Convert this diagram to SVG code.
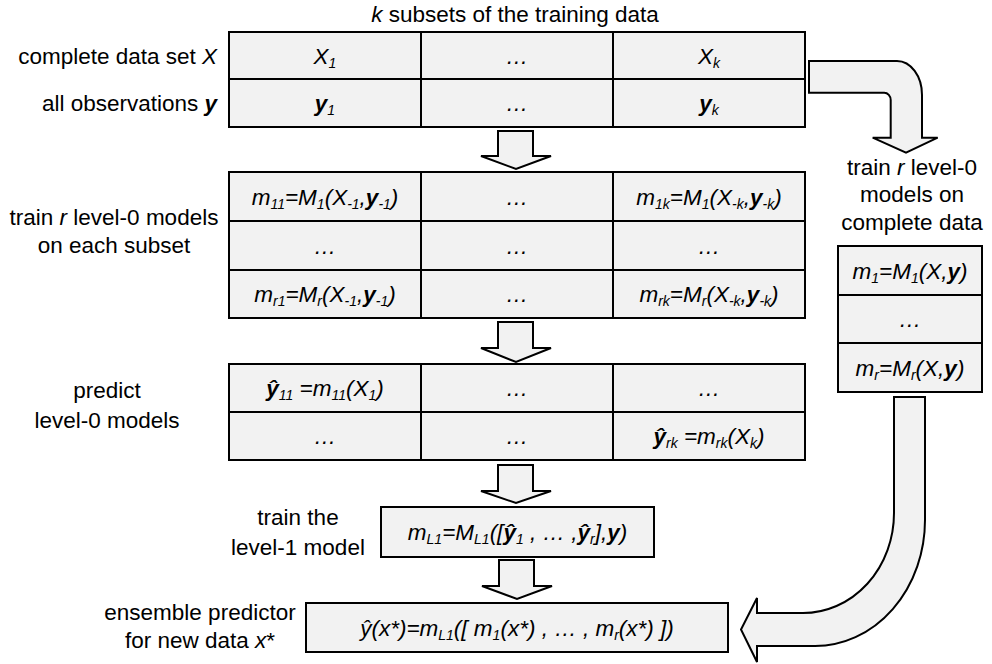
<svg xmlns="http://www.w3.org/2000/svg" width="992" height="664" viewBox="0 0 992 664">
  <style>
    text { font-family: "Liberation Sans", Arial, sans-serif; font-size: 22.5px; fill: #000; }
    .lbl { text-anchor: middle; }
    .end { text-anchor: end; }
    .c { text-anchor: middle; font-style: italic; }
    .i { font-style: italic; }
    .b { font-weight: bold; font-style: italic; }
    .s { font-size: 14px; }
    .box { fill: #f2f2f2; stroke: #000; stroke-width: 2; }
    .grid { stroke: #000; stroke-width: 2; fill: none; }
    .arrow { fill: #f2f2f2; stroke: #000; stroke-width: 2; stroke-linejoin: miter; }
  </style>

  <!-- heading above the data table -->
  <g id="title">
    <text class="lbl" x="515" y="22"><tspan class="i">k</tspan> subsets of the training data</text>
  </g>

  <!-- training data split into k subsets -->
  <g id="data-table">
    <rect class="box" x="229" y="32" width="576" height="95"/>
    <path class="grid" d="M229 79H805M421 32V127M613 32V127"/>
    <text class="c" x="325" y="64">X<tspan class="s" dy="4">1</tspan></text>
    <text class="c" x="517" y="64">…</text>
    <text class="c" x="709" y="64">X<tspan class="s" dy="4">k</tspan></text>
    <text class="c" x="325" y="111"><tspan class="b">y</tspan><tspan class="s" dy="4">1</tspan></text>
    <text class="c" x="517" y="111">…</text>
    <text class="c" x="709" y="111"><tspan class="b">y</tspan><tspan class="s" dy="4">k</tspan></text>
  </g>
  <g id="data-labels">
    <text class="end" x="217" y="64">complete data set <tspan class="i">X</tspan></text>
    <text class="end" x="217" y="111">all observations <tspan class="b">y</tspan></text>
  </g>

  <!-- level-0 models trained per subset -->
  <g id="cv-models">
    <rect class="box" x="229" y="172" width="576" height="146"/>
    <path class="grid" d="M229 221H805M229 270H805M421 172V318M613 172V318"/>
    <text class="c" x="325" y="205">m<tspan class="s" dy="4">11</tspan><tspan dy="-4">=M</tspan><tspan class="s" dy="4">1</tspan><tspan dy="-4">(X</tspan><tspan class="s" dy="4">-1</tspan><tspan dy="-4">,</tspan><tspan class="b">y</tspan><tspan class="s" dy="4">-1</tspan><tspan dy="-4">)</tspan></text>
    <text class="c" x="517" y="205">…</text>
    <text class="c" x="709" y="205">m<tspan class="s" dy="4">1k</tspan><tspan dy="-4">=M</tspan><tspan class="s" dy="4">1</tspan><tspan dy="-4">(X</tspan><tspan class="s" dy="4">-k</tspan><tspan dy="-4">,</tspan><tspan class="b">y</tspan><tspan class="s" dy="4">-k</tspan><tspan dy="-4">)</tspan></text>
    <text class="c" x="325" y="254">…</text>
    <text class="c" x="517" y="254">…</text>
    <text class="c" x="709" y="254">…</text>
    <text class="c" x="325" y="302">m<tspan class="s" dy="4">r1</tspan><tspan dy="-4">=M</tspan><tspan class="s" dy="4">r</tspan><tspan dy="-4">(X</tspan><tspan class="s" dy="4">-1</tspan><tspan dy="-4">,</tspan><tspan class="b">y</tspan><tspan class="s" dy="4">-1</tspan><tspan dy="-4">)</tspan></text>
    <text class="c" x="517" y="302">…</text>
    <text class="c" x="709" y="302">m<tspan class="s" dy="4">rk</tspan><tspan dy="-4">=M</tspan><tspan class="s" dy="4">r</tspan><tspan dy="-4">(X</tspan><tspan class="s" dy="4">-k</tspan><tspan dy="-4">,</tspan><tspan class="b">y</tspan><tspan class="s" dy="4">-k</tspan><tspan dy="-4">)</tspan></text>
  </g>
  <g id="cv-label">
    <text class="lbl" x="114" y="225">train <tspan class="i">r</tspan> level-0 models</text>
    <text class="lbl" x="114" y="253">on each subset</text>
  </g>

  <!-- out-of-fold predictions -->
  <g id="predictions">
    <rect class="box" x="229" y="364" width="576" height="96"/>
    <path class="grid" d="M229 412H805M421 364V460M613 364V460"/>
    <text class="c" x="325" y="396"><tspan class="b">ŷ</tspan><tspan class="s" dy="4">11</tspan><tspan dy="-4"> =m</tspan><tspan class="s" dy="4">11</tspan><tspan dy="-4">(X</tspan><tspan class="s" dy="4">1</tspan><tspan dy="-4">)</tspan></text>
    <text class="c" x="517" y="396">…</text>
    <text class="c" x="709" y="396">…</text>
    <text class="c" x="325" y="444">…</text>
    <text class="c" x="517" y="444">…</text>
    <text class="c" x="709" y="444"><tspan class="b">ŷ</tspan><tspan class="s" dy="4">rk</tspan><tspan dy="-4"> =m</tspan><tspan class="s" dy="4">rk</tspan><tspan dy="-4">(X</tspan><tspan class="s" dy="4">k</tspan><tspan dy="-4">)</tspan></text>
  </g>
  <g id="predict-label">
    <text class="lbl" x="107" y="398">predict</text>
    <text class="lbl" x="107" y="428">level-0 models</text>
  </g>

  <!-- level-1 model -->
  <g id="level1">
    <rect class="box" x="381" y="507" width="273" height="50"/>
    <text class="c" x="517.5" y="540">m<tspan class="s" dy="4">L1</tspan><tspan dy="-4">=M</tspan><tspan class="s" dy="4">L1</tspan><tspan dy="-4">([</tspan><tspan class="b">ŷ</tspan><tspan class="s" dy="4">1</tspan><tspan dy="-4"> , … ,</tspan><tspan class="b">ŷ</tspan><tspan class="s" dy="4">r</tspan><tspan dy="-4">],</tspan><tspan class="b">y</tspan><tspan>)</tspan></text>
  </g>
  <g id="level1-label">
    <text class="lbl" x="298" y="525">train the</text>
    <text class="lbl" x="298" y="555">level-1 model</text>
  </g>

  <!-- final ensemble predictor -->
  <g id="ensemble">
    <rect class="box" x="306" y="603" width="422" height="49"/>
    <text class="c" x="517" y="636">ŷ(x*)=m<tspan class="s" dy="4">L1</tspan><tspan dy="-4">([ m</tspan><tspan class="s" dy="4">1</tspan><tspan dy="-4">(x*) , … , m</tspan><tspan class="s" dy="4">r</tspan><tspan dy="-4">(x*) ])</tspan></text>
  </g>
  <g id="ensemble-label">
    <text class="lbl" x="200" y="620">ensemble predictor</text>
    <text class="lbl" x="200" y="648">for new data <tspan class="i">x</tspan>*</text>
  </g>

  <!-- level-0 models fitted on all data -->
  <g id="full-models">
    <rect class="box" x="838" y="246" width="144" height="146"/>
    <path class="grid" d="M838 295H982M838 343H982"/>
    <text class="c" x="910" y="279">m<tspan class="s" dy="4">1</tspan><tspan dy="-4">=M</tspan><tspan class="s" dy="4">1</tspan><tspan dy="-4">(X,</tspan><tspan class="b">y</tspan><tspan>)</tspan></text>
    <text class="c" x="910" y="327">…</text>
    <text class="c" x="910" y="376">m<tspan class="s" dy="4">r</tspan><tspan dy="-4">=M</tspan><tspan class="s" dy="4">r</tspan><tspan dy="-4">(X,</tspan><tspan class="b">y</tspan><tspan>)</tspan></text>
  </g>
  <g id="full-label">
    <text class="lbl" x="912" y="175">train <tspan class="i">r</tspan> level-0</text>
    <text class="lbl" x="912" y="202">models on</text>
    <text class="lbl" x="912" y="230">complete data</text>
  </g>

  <!-- block arrows between stages -->
  <g id="connectors">
    <path class="arrow" d="M498 131H533V156H551L516 169L481 156H498Z"/>
    <path class="arrow" d="M498 322H533V348H551L516 362L481 348H498Z"/>
    <path class="arrow" d="M498 465H533V491H551L516 503L481 491H498Z"/>
    <path class="arrow" d="M499 560H534V586H552L517 599L482 586H499Z"/>
    <path class="arrow" d="M809 61H897A25 34 0 0 1 922 95V137.7H937.7L906 152.7L872.7 137.7H890.7V100A6.5 7.3 0 0 0 884.2 92.7H809Z"/>
    <path class="arrow" d="M894 397H925V520A110 126 0 0 1 815 646H757V662L741 629.5L757 598V613H803A91 100 0 0 0 894 513Z"/>
  </g>
</svg>
